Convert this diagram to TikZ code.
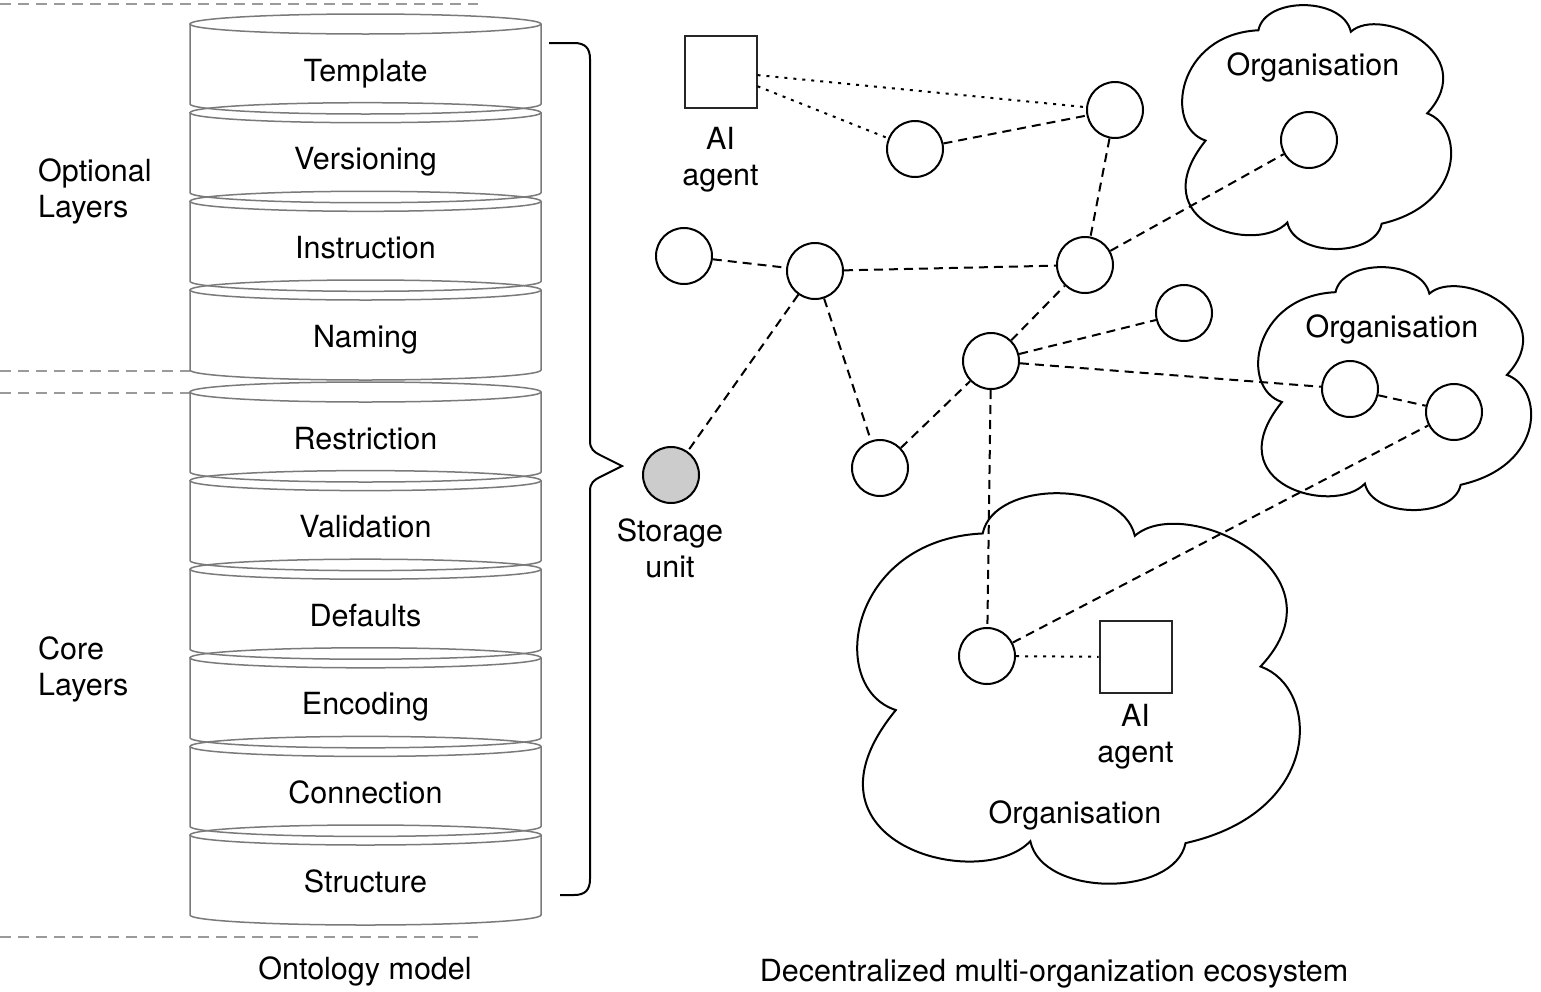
\documentclass[tikz,border=0pt]{standalone}
\usepackage{fontspec}
\setmainfont{TeX Gyre Heros}
\definecolor{cylgray}{HTML}{7A7A7A}
\definecolor{sepgray}{HTML}{9A9A9A}
\definecolor{storegray}{HTML}{CCCCCC}
\begin{document}
\begin{tikzpicture}[x=1pt,y=-1pt,
  lbl/.style={font=\fontsize{30.5}{36}\selectfont, inner sep=0pt, anchor=base},
  lblw/.style={lbl, anchor=base west},
  cyl/.style={draw=cylgray, line width=1.5pt},
  sep/.style={draw=sepgray, line width=1.5pt, dash pattern=on 11pt off 7pt},
  nd/.style={circle, draw, line width=2pt, fill=white, minimum size=56pt, inner sep=0pt},
  store/.style={nd, fill=storegray},
  agentbox/.style={rectangle, draw=black!85, line width=2pt, fill=white, minimum size=72pt, inner sep=0pt},
  lnk/.style={line width=2pt, dash pattern=on 9pt off 6pt},
  dotlnk/.style={line width=2pt, dash pattern=on 3pt off 6pt},
  cloudline/.style={draw, line width=2pt}]
\useasboundingbox (0,0) rectangle (1541,991);

% separators
\draw[sep] (0,4) -- (478,4);
\draw[sep] (0,371) -- (190,371);
\draw[sep] (0,393) -- (190,393);
\draw[sep] (0,937) -- (478,937);

% cylinders
\foreach \yc/\nm [count=\i] in {70/Template, 158.7/Versioning, 247.3/Instruction, 336/Naming, 438/Restriction, 526.6/Validation, 615.2/Defaults, 703.8/Encoding, 792.4/Connection, 881/Structure}{
  \draw[cyl] (365.5,{\yc-46}) ellipse[x radius=175.5, y radius=10];
  \draw[cyl] (190,{\yc-46}) -- (190,{\yc+34}) arc[start angle=180, end angle=0, x radius=175.5, y radius=10] -- (541,{\yc-46});
  \node[lbl] (layer\i) at (365.5,{\yc+11}) {\nm};
}

% side labels
\node[lblw] (opt1) at (38,181) {Optional};
\node[lblw] (opt2) at (38,217) {Layers};
\node[lblw] (core1) at (38,659) {Core};
\node[lblw] (core2) at (38,695) {Layers};
\node[lbl] (ontology) at (365,979) {Ontology model};
\node[lbl] (ecosys) at (1054,981) {Decentralized multi-organization ecosystem};

% brace
\draw[line width=2pt] (549,43) -- (574,43) .. controls (585,43) and (590,48) .. (590,59)
  -- (590,441) .. controls (590,449) and (594,452) .. (600,455) -- (622,466)
  -- (600,477) .. controls (594,480) and (590,483) .. (590,491)
  -- (590,879) .. controls (590,890) and (585,895) .. (574,895) -- (560,895);

% clouds
\foreach \cx/\cy/\cw/\ch [count=\k] in {1182/5/268/243, 1258/267/272/242, 857/493/441/389}{
  \begin{scope}[shift={(\cx,\cy)}, xscale=\cw, yscale=\ch]
    \draw[cloudline] (0.285,0.104) .. controls (0.31,-0.035) and (0.6,-0.035) .. (0.63,0.11)
      .. controls (0.74,0.0) and (1.12,0.2) .. (0.915,0.446)
      .. controls (1.05,0.5) and (1.06,0.82) .. (0.745,0.9)
      .. controls (0.72,1.04) and (0.42,1.04) .. (0.393,0.895)
      .. controls (0.28,1.03) and (-0.16,0.9) .. (0.088,0.558)
      .. controls (-0.07,0.5) and (-0.02,0.12) .. (0.285,0.104) -- cycle;
  \end{scope}
}
\node[lbl] (orgA) at (1313,75) {Organisation};
\node[lbl] (orgB) at (1392,337) {Organisation};
\node[lbl] (orgC) at (1075,823) {Organisation};

% network nodes
\node[agentbox] (agentA) at (720.5,71.5) {};
\node[lbl] (agentAl1) at (720.5,149) {AI};
\node[lbl] (agentAl2) at (720.5,185) {agent};
\node[agentbox] (agentB) at (1135.5,657) {};
\node[lbl] (agentBl1) at (1135.5,726) {AI};
\node[lbl] (agentBl2) at (1135.5,762) {agent};

\node[nd] (c1) at (915,149) {};
\node[nd] (c2) at (1115,110) {};
\node[nd] (c3) at (1309,140) {};
\node[nd] (c4) at (684,256) {};
\node[nd] (c5) at (815,271) {};
\node[nd] (c6) at (1085,265) {};
\node[nd] (c7) at (1184,313) {};
\node[nd] (c8) at (991,361) {};
\node[store] (c9) at (671,475) {};
\node[nd] (c10) at (880,468) {};
\node[nd] (c11) at (1350,389) {};
\node[nd] (c12) at (1454,412) {};
\node[nd] (c13) at (987,656) {};
\node[lbl] (st1) at (670,541) {Storage};
\node[lbl] (st2) at (670,577) {unit};

% links
\draw[dotlnk] (agentA) -- (c2);
\draw[dotlnk] (agentA) -- (c1);
\draw[dotlnk] (c13) -- (agentB);
\draw[lnk] (c1) -- (c2);
\draw[lnk] (c2) -- (c6);
\draw[lnk] (c6) -- (c3);
\draw[lnk] (c4) -- (c5);
\draw[lnk] (c5) -- (c6);
\draw[lnk] (c5) -- (c9);
\draw[lnk] (c5) -- (c10);
\draw[lnk] (c10) -- (c8);
\draw[lnk] (c8) -- (c6);
\draw[lnk] (c8) -- (c7);
\draw[lnk] (c8) -- (c11);
\draw[lnk] (c11) -- (c12);
\draw[lnk] (c8) -- (c13);
\draw[lnk] (c13) -- (c12);
\end{tikzpicture}
\end{document}
